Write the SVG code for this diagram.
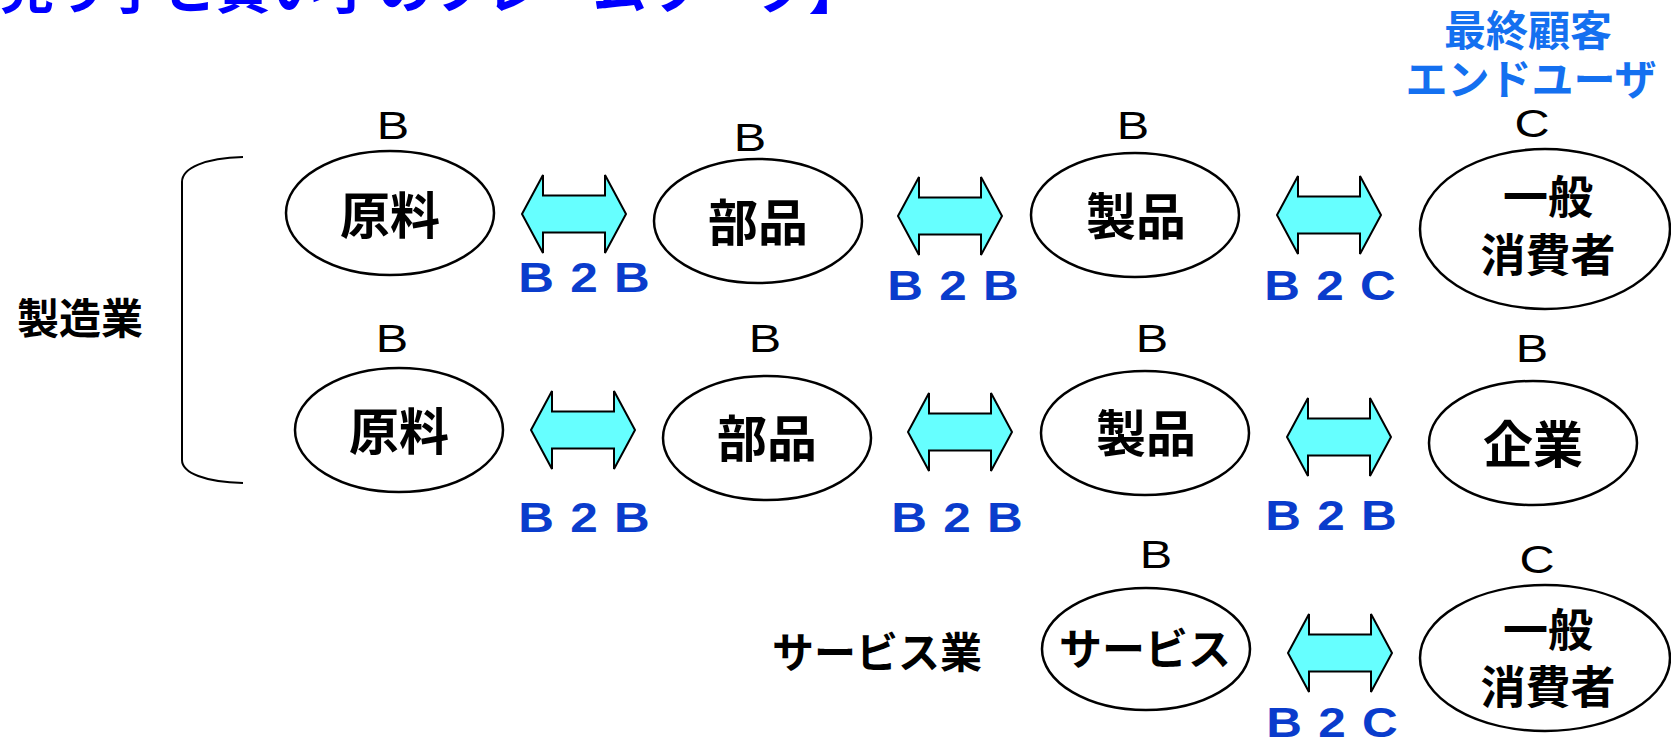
<svg xmlns="http://www.w3.org/2000/svg" width="1671" height="740" viewBox="0 0 1671 740">
<style>
.node{fill:#fff;stroke:#000;stroke-width:2.5}
.arr{fill:#66FFFF;stroke:#000;stroke-width:2}
.jp{font-family:"Noto Sans CJK JP",sans-serif;font-weight:bold;fill:#000;text-anchor:middle}
.nt{font-size:50px}
.lt{font-family:"Liberation Sans",Arial,sans-serif;font-size:38px;fill:#000;text-anchor:middle}
.bl{font-family:"Liberation Sans",Arial,sans-serif;font-size:43px;font-weight:bold;fill:#0A3CCC;text-anchor:middle}
.hd{font-family:"Noto Sans CJK JP",sans-serif;font-weight:bold;font-size:42px;fill:#1470F0;text-anchor:middle}
</style>
<defs>
<path id="dbl" class="arr" d="M-52,0 L-31,-39 L-31,-18.5 L31,-18.5 L31,-39 L52,0 L31,39 L31,18.5 L-31,18.5 L-31,39 Z"/>
</defs>
<rect width="1671" height="740" fill="#fff"/>
<text x="-54" y="9" font-family="'Noto Sans CJK JP',sans-serif" font-weight="bold" font-size="54" fill="#0000FF">【売り手と買い手のフレームワーク】</text>
<g id="header">
<text class="hd" x="1528" y="46">最終顧客</text>
<text class="hd" x="1531" y="95">エンドユーザ</text>
</g>
<g id="manufacturing">
<path d="M243,157 C205,158 182,168 182,182 L182,460 C182,473 205,482 243,483" fill="none" stroke="#000" stroke-width="2"/>
<text class="jp" x="80" y="334" font-size="42">製造業</text>
</g>
<g id="service-label">
<text class="jp" x="877" y="668" font-size="42">サービス業</text>
</g>
<g id="r1-raw">
<text class="lt" transform="translate(393,139) scale(1.28,1)">B</text>
<ellipse class="node" cx="390" cy="213" rx="104" ry="62"/>
<text class="jp nt" x="390" y="234">原料</text>
</g>
<g id="r1-parts">
<text class="lt" transform="translate(750,151) scale(1.28,1)">B</text>
<ellipse class="node" cx="758" cy="221" rx="104" ry="62"/>
<text class="jp nt" x="758" y="241">部品</text>
</g>
<g id="r1-product">
<text class="lt" transform="translate(1133,139) scale(1.28,1)">B</text>
<ellipse class="node" cx="1135" cy="215" rx="104" ry="62"/>
<text class="jp nt" x="1136" y="235">製品</text>
</g>
<g id="r1-consumer">
<text class="lt" transform="translate(1532,137) scale(1.28,1)">C</text>
<ellipse class="node" cx="1545" cy="229" rx="125" ry="80"/>
<text class="jp" x="1548" y="214" font-size="45">一般</text>
<text class="jp" x="1548" y="272" font-size="45">消費者</text>
</g>
<g id="r2-raw">
<text class="lt" transform="translate(392,352) scale(1.28,1)">B</text>
<ellipse class="node" cx="399" cy="430" rx="104" ry="62"/>
<text class="jp nt" x="399" y="450">原料</text>
</g>
<g id="r2-parts">
<text class="lt" transform="translate(765,352) scale(1.28,1)">B</text>
<ellipse class="node" cx="767" cy="438" rx="104" ry="62"/>
<text class="jp nt" x="767" y="457">部品</text>
</g>
<g id="r2-product">
<text class="lt" transform="translate(1152,352) scale(1.28,1)">B</text>
<ellipse class="node" cx="1145" cy="433" rx="104" ry="62"/>
<text class="jp nt" x="1146" y="452">製品</text>
</g>
<g id="r2-company">
<text class="lt" transform="translate(1532,362) scale(1.28,1)">B</text>
<ellipse class="node" cx="1533" cy="443" rx="104" ry="62"/>
<text class="jp nt" x="1533" y="463">企業</text>
</g>
<g id="r3-service">
<text class="lt" transform="translate(1156,568) scale(1.28,1)">B</text>
<ellipse class="node" cx="1146" cy="649" rx="104" ry="61"/>
<text class="jp" x="1145" y="665" font-size="43">サービス</text>
</g>
<g id="r3-consumer">
<text class="lt" transform="translate(1537,573) scale(1.28,1)">C</text>
<ellipse class="node" cx="1545" cy="658" rx="125" ry="73"/>
<text class="jp" x="1548" y="647" font-size="45">一般</text>
<text class="jp" x="1548" y="704" font-size="45">消費者</text>
</g>
<g id="connectors">
<use href="#dbl" transform="translate(574,214)"/>
<use href="#dbl" transform="translate(950,216)"/>
<use href="#dbl" transform="translate(1329,215)"/>
<use href="#dbl" transform="translate(583,430)"/>
<use href="#dbl" transform="translate(960,432)"/>
<use href="#dbl" transform="translate(1339,437)"/>
<use href="#dbl" transform="translate(1340,653)"/>
<text class="bl" transform="translate(584,292) scale(1.15,1)" x="-41.7 0 41.7">B2B</text>
<text class="bl" transform="translate(953,300) scale(1.15,1)" x="-41.7 0 41.7">B2B</text>
<text class="bl" transform="translate(1330,300) scale(1.15,1)" x="-41.7 0 41.7">B2C</text>
<text class="bl" transform="translate(584,532) scale(1.15,1)" x="-41.7 0 41.7">B2B</text>
<text class="bl" transform="translate(957,532) scale(1.15,1)" x="-41.7 0 41.7">B2B</text>
<text class="bl" transform="translate(1331,530) scale(1.15,1)" x="-41.7 0 41.7">B2B</text>
<text class="bl" transform="translate(1332,737) scale(1.15,1)" x="-41.7 0 41.7">B2C</text>
</g>
</svg>
